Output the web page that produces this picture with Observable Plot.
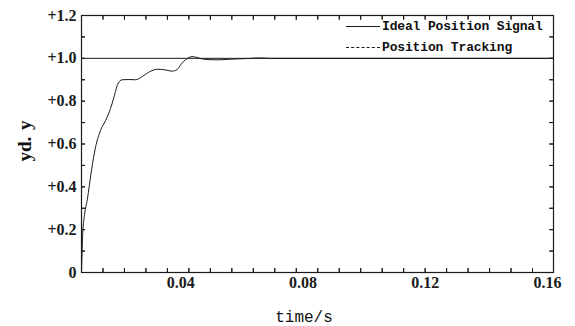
<!DOCTYPE html>
<html>
<head>
<meta charset="utf-8">
<script src="https://cdn.jsdelivr.net/npm/d3@7"></script>
<script src="https://cdn.jsdelivr.net/npm/@observablehq/plot@0.6"></script>
<style>
  html, body { margin: 0; padding: 0; background: #fff; }
  #wrap { position: relative; width: 575px; height: 326px; }
  .ylab { position: absolute; left: 25px; top: 141px; transform: translate(-50%, -50%) rotate(-90deg);
          font-family: "Liberation Serif", serif; font-weight: bold; font-size: 19px; color: #111; white-space: nowrap; word-spacing: 2px; }
  .xlab { position: absolute; left: 304px; top: 318px; transform: translate(-50%, -50%);
          font-family: "Liberation Mono", monospace; font-size: 16px; color: #111; white-space: nowrap; }
  .legend { position: absolute; left: 346px; top: 16px; font-family: "Liberation Mono", monospace; font-weight: bold;
            font-size: 13px; color: #111; line-height: 21px; letter-spacing: -0.15px; }
  .legend .row { display: flex; align-items: center; white-space: nowrap; }
  .legend .swatch { display: inline-block; width: 34px; height: 0; margin-right: 2px; }
</style>
</head>
<body>
<div id="wrap"></div>
<script>
// ---- data ----
const seriesNames = ["Ideal Position Signal", "Position Tracking"];
const idealLevel = [1.0];
const trackTime = [0.0075, 0.0079, 0.0085, 0.0094, 0.0108, 0.0121, 0.0137, 0.0154, 0.0170, 0.0180, 0.0192, 0.0200,
                   0.0208, 0.0230, 0.0252, 0.0274, 0.0295, 0.0323, 0.0350, 0.0372, 0.0388, 0.0402, 0.0415,
                   0.0437, 0.0451, 0.0474, 0.0519, 0.0563, 0.0617, 0.0661, 0.0693, 0.0800, 0.1000, 0.1200, 0.1400, 0.1620];
const trackValue = [0.000, 0.180, 0.270, 0.340, 0.480, 0.585, 0.663, 0.710, 0.766, 0.812, 0.873, 0.893,
                    0.900, 0.901, 0.900, 0.915, 0.935, 0.949, 0.946, 0.940, 0.948, 0.974, 0.993,
                    1.008, 1.005, 0.996, 0.993, 0.996, 0.999, 1.002, 1.000, 1.000, 1.000, 1.000, 1.000, 1.000];
const xTickLabels = [0.04, 0.08, 0.12, 0.16];
const yTickLabels = [0, 0.2, 0.4, 0.6, 0.8, 1.0, 1.2];
const xDomain = [0.0075, 0.162];
const yDomain = [0, 1.2];
const xMinorStep = 0.00703;
const yMinorStep = 0.1;

const track = trackTime.map((t, i) => ({t, v: trackValue[i]}));
const xMinor = d3.range(xDomain[0] + xMinorStep, xDomain[1] - 1e-4, xMinorStep);
const yMinor = d3.range(yDomain[0] + yMinorStep, yDomain[1] - 1e-6, yMinorStep);
const ink = "#1a1a1a";

const W = 575, H = 326, mL = 81, mR = 22, mT = 15, mB = 54;
const innerW = W - mL - mR, innerH = H - mT - mB, tk = 4;

const chart = Plot.plot({
  width: W,
  height: H,
  marginLeft: mL,
  marginRight: mR,
  marginTop: mT,
  marginBottom: mB,
  style: {fontFamily: "Liberation Serif, serif", fontWeight: "bold", color: ink, background: "#fff"},
  x: {domain: xDomain},
  y: {domain: yDomain},
  marks: [
    Plot.ruleY(idealLevel, {stroke: ink, strokeWidth: 1}),
    Plot.line(track, {x: "t", y: "v", stroke: ink, strokeWidth: 1, curve: "monotone-x"}),
    Plot.axisX({anchor: "bottom", ticks: xTickLabels, tickSize: 0, tickPadding: 4, fontSize: 16, tickFormat: d => d.toFixed(2), label: null}),
    Plot.axisY({anchor: "left", ticks: yTickLabels, tickSize: 0, tickPadding: 5, fontSize: 16, tickFormat: d => d === 0 ? "0" : "+" + d.toFixed(1), label: null}),
    // inward minor ticks (axis ticks shifted into the frame)
    Plot.axisX({anchor: "bottom", ticks: xMinor, tickSize: tk, dy: -tk, tickFormat: null, text: null, label: null, stroke: ink}),
    Plot.axisX({anchor: "top", ticks: xMinor, tickSize: tk, dy: tk, tickFormat: null, text: null, label: null, stroke: ink}),
    Plot.axisY({anchor: "left", ticks: yMinor, tickSize: tk, dx: tk, tickFormat: null, text: null, label: null, stroke: ink}),
    Plot.axisY({anchor: "right", ticks: yMinor, tickSize: tk, dx: -tk, tickFormat: null, text: null, label: null, stroke: ink}),
    Plot.tickX(xMinor, {x: d => d, stroke: ink, insetTop: innerH - tk}),
    Plot.tickX(xMinor, {x: d => d, stroke: ink, insetBottom: innerH - tk}),
    Plot.tickY(yMinor, {y: d => d, stroke: ink, insetRight: innerW - tk}),
    Plot.tickY(yMinor, {y: d => d, stroke: ink, insetLeft: innerW - tk}),
    Plot.frame({stroke: ink, strokeWidth: 1.2})
  ]
});

const wrap = document.getElementById("wrap");
wrap.appendChild(chart);

const ylab = document.createElement("div");
ylab.className = "ylab"; ylab.textContent = "yd. y";
wrap.appendChild(ylab);
const xlab = document.createElement("div");
xlab.className = "xlab"; xlab.textContent = "time/s";
wrap.appendChild(xlab);

const legend = document.createElement("div");
legend.className = "legend";
const dashStyles = ["solid", "dashed"];
seriesNames.forEach((name, i) => {
  const row = document.createElement("div");
  row.className = "row";
  const sw = document.createElement("span");
  sw.className = "swatch";
  sw.style.borderTop = `1px ${dashStyles[i]} ${ink}`;
  const label = document.createElement("span");
  label.textContent = name;
  row.appendChild(sw);
  row.appendChild(label);
  legend.appendChild(row);
});
wrap.appendChild(legend);
</script>
</body>
</html>
